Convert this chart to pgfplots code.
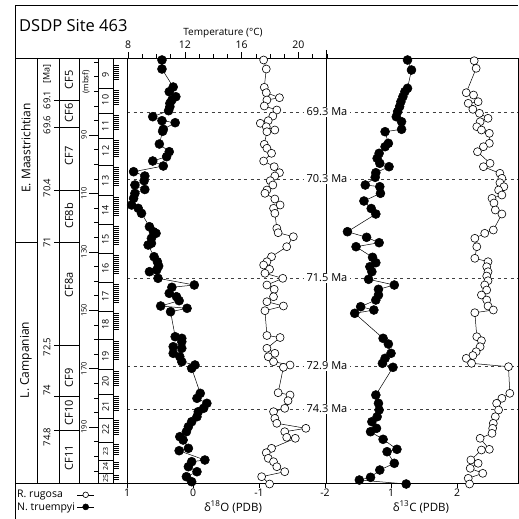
\documentclass[border=0pt]{standalone}
\usepackage{fontspec}
\setmainfont{Open Sans}
\usepackage{pgfplots}
\usepackage{pgfplotstable}
\pgfplotsset{compat=1.18}
\newcommand{\fs}[1]{\fontsize{#1}{#1}\selectfont}

% pos = vertical position (px from top of figure, depth order); d = isotope value (permil PDB)
\pgfplotstableread{
pos d
60 0.47
69 0.47
87 0.30
91.7 0.36
96.7 0.26
100 0.32
103.3 0.35
106.7 0.35
110.7 0.37
116.7 0.61
120.7 0.47
122.7 0.27
129.3 0.45
131.3 0.46
144 0.51
151.7 0.36
156.7 0.40
161 0.61
166 0.45
171.7 0.90
176 0.73
180.7 0.74
185 0.88
189.5 0.73
193.3 0.88
198.3 0.90
205 0.93
208.3 0.83
213.3 0.78
226.7 0.66
231.7 0.60
233.3 0.56
238.3 0.63
243.3 0.63
245 0.68
256.7 0.59
261.7 0.54
266 0.52
270 0.55
271.7 0.66
278.3 0.53
285 -0.02
287.3 0.32
293.3 0.36
296.7 0.25
300.7 0.21
306 0.49
308.3 0.09
311.7 0.34
336.7 0.27
338.3 0.17
341.7 0.17
346.7 0.30
348.3 0.17
353.3 0.30
356.7 0.20
361.7 0.17
365 -0.03
368.3 0.02
393.3 -0.11
398.3 -0.06
403.3 -0.21
408.3 -0.16
411.7 -0.08
416.7 -0.06
421.7 0.02
426.7 0.07
431.7 0.10
436.7 0.20
440 0.15
448.3 0.07
450.7 0.21
460 -0.18
461.7 0.02
466.7 0.07
471.7 -0.06
476.7 0.10
481.7 0.02
}\OxN

\pgfplotstableread{
pos d
60 -1.07
69 -1.11
87.3 -1.08
92.7 -1.11
97.7 -1.31
100 -1.12
106 -1.08
110 -1.27
116 -1.21
120.7 -1.14
123.3 -1.02
126.7 -1.11
130 -1.24
131.7 -1.12
144.3 -1.08
148.3 -1.12
153.3 -1.19
161 -1.07
166.7 -1.23
172.7 -1.31
176 -1.24
180.7 -1.17
185 -1.21
190 -1.12
193.3 -1.09
199 -1.24
205 -1.32
208.3 -1.22
213.3 -1.24
228.3 -1.27
232.7 -1.29
236.7 -1.52
246.7 -1.42
256.7 -1.19
261.7 -1.12
265 -1.07
269.3 -1.16
273.3 -1.09
278.3 -1.36
285 -1.12
289.3 -1.23
296.7 -1.22
301.7 -1.12
306 -1.37
310.7 -1.09
335.5 -1.12
337.5 -1.32
348.3 -1.12
353.3 -1.24
356.7 -1.14
361.7 -1.22
365 -1.47
367.3 -1.37
392.7 -1.29
395 -1.47
400.7 -1.44
408.3 -1.39
411.7 -1.22
418.3 -1.24
423.3 -1.27
428.3 -1.71
431.7 -1.39
437.3 -1.42
438.3 -1.55
448.3 -1.19
452.7 -1.11
458.3 -1.14
461.7 -1.22
466.7 -1.27
471.7 -1.39
476.7 -1.04
484 -1.16
}\OxR

\pgfplotstableread{
pos d
60 1.25
70 1.31
88.3 1.25
91.7 1.21
96.7 1.18
101.7 1.15
106.7 1.13
111.7 1.10
116.7 1.08
121.7 1.16
129.3 1.16
131.7 0.91
143.3 0.96
146.7 0.91
153.3 0.82
158.3 0.79
163.3 0.83
166.7 0.97
172.7 0.77
177.3 0.76
185 0.61
186.7 0.83
193.3 0.84
201 0.59
208.5 0.70
214 0.77
231.7 0.34
237.3 0.63
242.7 0.82
246.7 0.47
257.3 0.72
262.7 0.77
266.7 0.68
271.7 0.71
279.3 0.66
285 1.05
289.3 0.81
295 0.81
300 0.77
306.7 0.54
310 0.74
313.3 0.45
338.3 0.88
344 0.96
353.3 1.00
358.3 0.91
363.3 0.87
367.3 1.03
395 0.77
403.3 0.81
410 0.82
416.7 0.79
421.7 0.71
428.3 0.78
431.7 0.69
439.3 0.88
449.3 1.09
451.7 0.94
463.3 1.05
470 0.83
477.3 0.69
480 0.52
484 1.23
}\CbN

\pgfplotstableread{
pos d
60.7 2.26
68.3 2.29
92.7 2.14
95 2.25
101.7 2.32
103.3 2.17
109.3 2.24
113.3 2.34
118.3 2.47
121.7 2.35
126.7 2.30
130 2.37
133.3 2.49
143.3 2.49
146.7 2.40
151.7 2.31
163.3 2.50
166.7 2.40
173.3 2.65
178.3 2.68
182.7 2.65
186.7 2.71
190 2.63
195 2.68
198.3 2.53
203 2.56
210 2.58
214 2.68
230 2.55
233.3 2.42
238.3 2.27
246.7 2.30
258.3 2.27
261.7 2.47
266.7 2.45
271.7 2.47
276 2.45
280.7 2.47
285 2.42
290 2.45
295 2.37
300 2.45
306 2.47
310 2.55
312.7 2.27
336.7 2.30
340.7 2.37
346.7 2.35
351.7 2.29
355.5 2.24
358.3 2.14
363.3 2.22
366.7 2.78
393.3 2.80
398.3 2.68
403.3 2.60
410 2.63
416.7 2.58
423.3 2.55
428.3 2.54
433.3 2.53
438.3 2.35
449.3 2.49
450 2.37
460 2.21
463.3 2.32
468.3 2.20
473.3 2.39
478.3 2.17
484 2.19
}\CbR

\begin{document}
\begin{tikzpicture}
\begin{scope}[x=1pt,y=-1pt]
\useasboundingbox (0,0) rectangle (518,519);
% outer frame and column grid
\draw[line width=0.8pt] (15,519) -- (15,5) -- (518,5);
\draw[line width=0.8pt] (15,58) -- (127,58);
\draw[line width=0.8pt] (15,483) -- (127,483);
\foreach \xx in {37,59,79,98,113} \draw[line width=0.6pt] (\xx,58) -- (\xx,483);
% title
\node[anchor=west, font=\fs{16.5}, inner sep=0pt] at (19,26) {DSDP Site 463};
% stage column
\draw[line width=0.6pt] (15,242) -- (37,242);
\node[rotate=90, font=\fs{12}] at (26,148) {E. Maastrichtian};
\node[rotate=90, font=\fs{12}] at (26,360) {L. Campanian};
% Ma column
\node[rotate=90, font=\fs{9}] at (47,74) {[Ma]};
\foreach \yy/\lab in {100/69.1,125/69.6,188/70.4,242/71,347/72.5,390/74,437/74.8}
  \node[rotate=90, font=\fs{9.5}] at (47,\yy) {\lab};
\foreach \yy in {100,127,190,242,345,396,430} \draw[line width=0.6pt] (54,\yy) -- (79,\yy);
% CF zones
\foreach \yy/\lab in {80/CF5,113/CF6,156/CF7,216/CF8b,285/CF8a,378/CF9,413/CF10,458/CF11}
  \node[rotate=90, font=\fs{11}] at (69,\yy) {\lab};
% depth column
\node[rotate=90, font=\fs{8}] at (86,82) {(mbsf)};
\foreach \d in {65,70,...,205} {\pgfmathsetmacro\yy{135+(\d-90)*2.92}
  \draw[line width=0.5pt] (94,\yy) -- (98,\yy);}
\foreach \d in {90,110,...,190} {\pgfmathsetmacro\yy{135+(\d-90)*2.92}
  \draw[line width=0.5pt] (89,\yy) -- (98,\yy);
  \node[rotate=90, font=\fs{7.5}] at (84,\yy) {\d};}
% cores
\foreach \yy in {88,113,138,165,195,224,253,282,311,339,369,394,418,442,460,473}
  \draw[line width=0.6pt] (98,\yy) -- (113,\yy);
\foreach \yy/\n in {75/9,100/10,126/11,151/12,181/13,210/14,239/15,268/16,296/17,324/18,356/19,381/20,406/21,429/22}
  \node[rotate=90, font=\fs{9}] at (105.5,\yy) {\n};
\foreach \yy/\n in {451/23,466.5/24,478/25}
  \node[rotate=90, font=\fs{7}] at (105.5,\yy) {\n};
\foreach \t/\b in {63/88,88/113,113/138,138/165,165/195,195/224,224/253,253/282,282/311,311/339,339/369,369/394,394/418,418/442,442/460,460/473,473/483} {
  \pgfmathsetmacro\ts{\t+2}\pgfmathsetmacro\tn{\t+4}\pgfmathsetmacro\ye{\t+0.7*(\b-\t)}
  \foreach \yy in {\ts,\tn,...,\ye} \draw[line width=0.4pt] (113,\yy) -- (118.5,\yy);}
% temperature scale
\node[font=\fs{10}] at (223,33) {Temperature (°C)};
\foreach \T in {8,...,22} {\pgfmathsetmacro\xx{128+(\T-8)*14.2}
  \draw[line width=0.5pt] (\xx,58) -- (\xx,54);}
\foreach \T in {8,12,16,20} {\pgfmathsetmacro\xx{128+(\T-8)*14.2}
  \draw[line width=0.5pt] (\xx,58) -- (\xx,52);
  \node[font=\fs{10.5}] at (\xx,45) {\T};}
% age lines
\foreach \yy in {112,179,278,366,409}
  \draw[dash pattern=on 3pt off 3.5pt, line width=0.6pt, black!75] (127,\yy) -- (518,\yy);
\draw[line width=0.8pt] (326,50) -- (326,483);
\foreach \yy/\lab in {112/69.3,179/70.3,278/71.5,366/72.9,409/74.3}
  \node[fill=white, inner xsep=3pt, inner ysep=1pt, font=\fs{11}] at (327,\yy) {\lab\ Ma};
\end{scope}

% carbon isotope axis (draws frame and bottom ticks)
\begin{axis}[
  scale only axis, width=391pt, height=425pt,
  at={(322.5pt,-270.5pt)}, anchor=center,
  xmin=-3, xmax=2.924, ymin=58, ymax=483, y dir=reverse,
  clip=false,
  axis line style={line width=0.8pt, black},
  xtick={-3,-2,-1,0,1,2}, xticklabels={1,0,-1,-2,1,2},
  ytick=\empty,
  xtick pos=left, tick align=outside, major tick length=5pt,
  xtick style={line width=0.6pt, black},
  xticklabel style={font=\fs{10.5}, inner sep=1pt},
  legend plot pos=right, legend cell align=left,
  legend style={draw=none, fill=none, font=\fs{10.5},
    at={(axis description cs:-0.2864,-0.012)}, anchor=north west,
    inner sep=0pt, row sep=-1pt},
]
\addlegendimage{black, line width=0.5pt, mark=*, mark size=2.8pt, mark options={fill=white, line width=0.6pt}}
\addlegendentry{R. rugosa}
\addlegendimage{black, line width=0.5pt, mark=*, mark size=3pt, mark options={fill=black}}
\addlegendentry{N. truempyi}
\addplot[black, line width=0.5pt, mark=*, mark size=4.5pt, mark options={fill=black}, forget plot]
  table[x=d, y=pos]{\CbN};
\addplot[black, line width=0.5pt, mark=*, mark size=4pt, mark options={fill=white, line width=0.6pt}, forget plot]
  table[x=d, y=pos]{\CbR};
\end{axis}

% oxygen isotope axis (reversed)
\begin{axis}[
  scale only axis, width=391pt, height=425pt,
  at={(322.5pt,-270.5pt)}, anchor=center,
  xmin=-4.924, xmax=1, x dir=reverse,
  ymin=58, ymax=483, y dir=reverse,
  clip=false, hide axis,
]
\addplot[black, line width=0.5pt, mark=*, mark size=4.5pt, mark options={fill=black}]
  table[x=d, y=pos]{\OxN};
\addplot[black, line width=0.5pt, mark=*, mark size=4pt, mark options={fill=white, line width=0.6pt}]
  table[x=d, y=pos]{\OxR};
\end{axis}

\begin{scope}[x=1pt,y=-1pt]
\node[font=\fs{11.5}] at (233,507) {δ\textsuperscript{18}O (PDB)};
\node[font=\fs{11.5}] at (421,507) {δ\textsuperscript{13}C (PDB)};
\end{scope}
\end{tikzpicture}
\end{document}
